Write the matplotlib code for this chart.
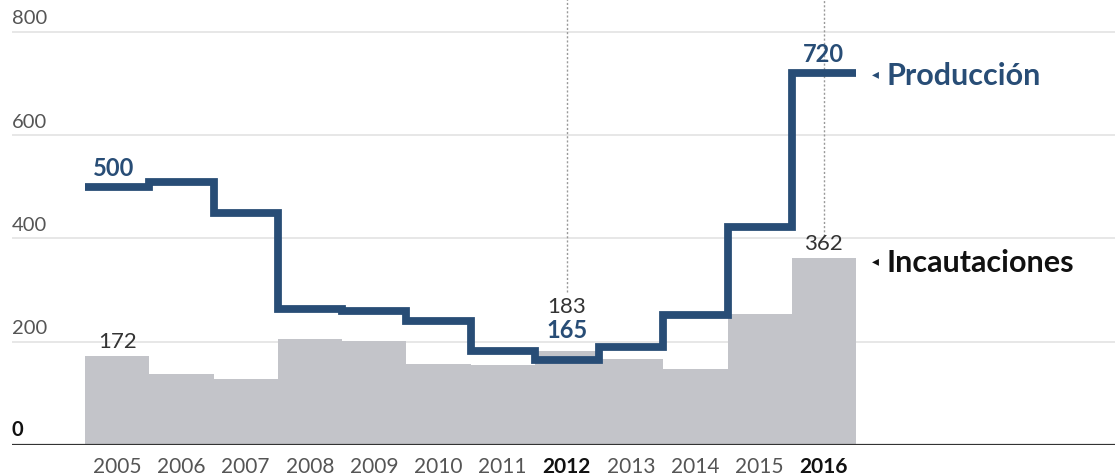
import matplotlib
matplotlib.use("Agg")
import matplotlib.pyplot as plt
import numpy as np

years = ["2005", "2006", "2007", "2008", "2009", "2010", "2011", "2012", "2013", "2014", "2015", "2016"]
produccion = [500, 510, 450, 264, 259, 240, 182, 165, 190, 251, 422, 720]
incautaciones = [172, 138, 127, 205, 202, 157, 155, 183, 167, 148, 253, 362]
bold_years = ["2012", "2016"]
yticks = [0, 200, 400, 600, 800]

BLUE = "#284d76"
GRAY_FILL = "#c3c4c9"
TXT_GRAY = "#555555"
FONT = "Lato"

W, H = 1115, 477
fig = plt.figure(figsize=(W / 100, H / 100), dpi=100)
ax_left = 12 / W
ax = fig.add_axes([ax_left, 1 - 446 / H, 1 - ax_left, 446 / H])
ax.set_xlim(-0.5 - 73 / 64.25, -0.5 + (1115 - 85) / 64.25)
ax.set_ylim(0, 446 / 0.5163)
ax.axis("off")

x = np.arange(len(years))
edges = np.arange(len(years) + 1) - 0.5

# gridlines
for v in yticks[1:]:
    ax.axhline(v, color="#e3e3e3", lw=1.2, zorder=0)
ax.axhline(0, color="#333333", lw=1.6, zorder=4)

# y labels
for v in yticks:
    ax.text(-0.5 - 73 / 64.25, v + 11, str(v), ha="left", va="bottom",
            fontsize=14.5, family=FONT,
            color="#111111" if v == 0 else TXT_GRAY,
            fontweight="bold" if v == 0 else "normal")

# dotted reference lines
i12 = years.index("2012")
i16 = years.index("2016")
ax.plot([x[i12], x[i12]], [296, 900], color="#999999", lw=1, ls=(0, (1.5, 1.5)), zorder=1)
ax.plot([x[i16], x[i16]], [405, 900], color="#999999", lw=1, ls=(0, (1.5, 1.5)), zorder=1)

# incautaciones area
ax.stairs(incautaciones, edges, fill=True, color=GRAY_FILL, lw=0, zorder=2)
# produccion line
ax.stairs(produccion, edges, baseline=None, color=BLUE, lw=5.6, zorder=3)

# year labels
for xi, y in zip(x, years):
    b = y in bold_years
    ax.text(xi, -22, y, ha="center", va="top", fontsize=15, family=FONT,
            color="#111111" if b else TXT_GRAY, fontweight="bold" if b else "normal",
            clip_on=False)

# value annotations
ax.text(x[0] - 0.37, produccion[0] + 16, str(produccion[0]), ha="left", va="bottom",
        fontsize=17, fontweight="bold", color=BLUE, family=FONT)
ax.text(x[i16], produccion[i16] + 16, str(produccion[i16]), ha="center", va="bottom",
        fontsize=17, fontweight="bold", color=BLUE, family=FONT)
ax.text(x[0], incautaciones[0] + 11, str(incautaciones[0]), ha="center", va="bottom",
        fontsize=16, color="#333333", family=FONT)
ax.text(x[i12], 250, str(incautaciones[i12]), ha="center", va="bottom",
        fontsize=16, color="#333333", family=FONT)
ax.text(x[i12], 201, str(produccion[i12]), ha="center", va="bottom",
        fontsize=17, fontweight="bold", color=BLUE, family=FONT)
ax.text(x[i16], incautaciones[i16] + 10, str(incautaciones[i16]), ha="center", va="bottom",
        fontsize=16, color="#333333", family=FONT)

# series labels
ax.text(11.8, produccion[i16], "◂", ha="center", va="center", fontsize=10,
        color=BLUE, family="DejaVu Sans")
ax.text(11.97, produccion[i16] - 4, "Producción", ha="left", va="center", fontsize=22,
        fontweight="bold", color=BLUE, family=FONT)
ax.text(11.8, incautaciones[i16] - 4, "◂", ha="center", va="center", fontsize=10,
        color="#111111", family="DejaVu Sans")
ax.text(11.97, incautaciones[i16] - 8, "Incautaciones", ha="left", va="center", fontsize=22,
        fontweight="bold", color="#111111", family=FONT)

fig.savefig("out.png", dpi=100)
